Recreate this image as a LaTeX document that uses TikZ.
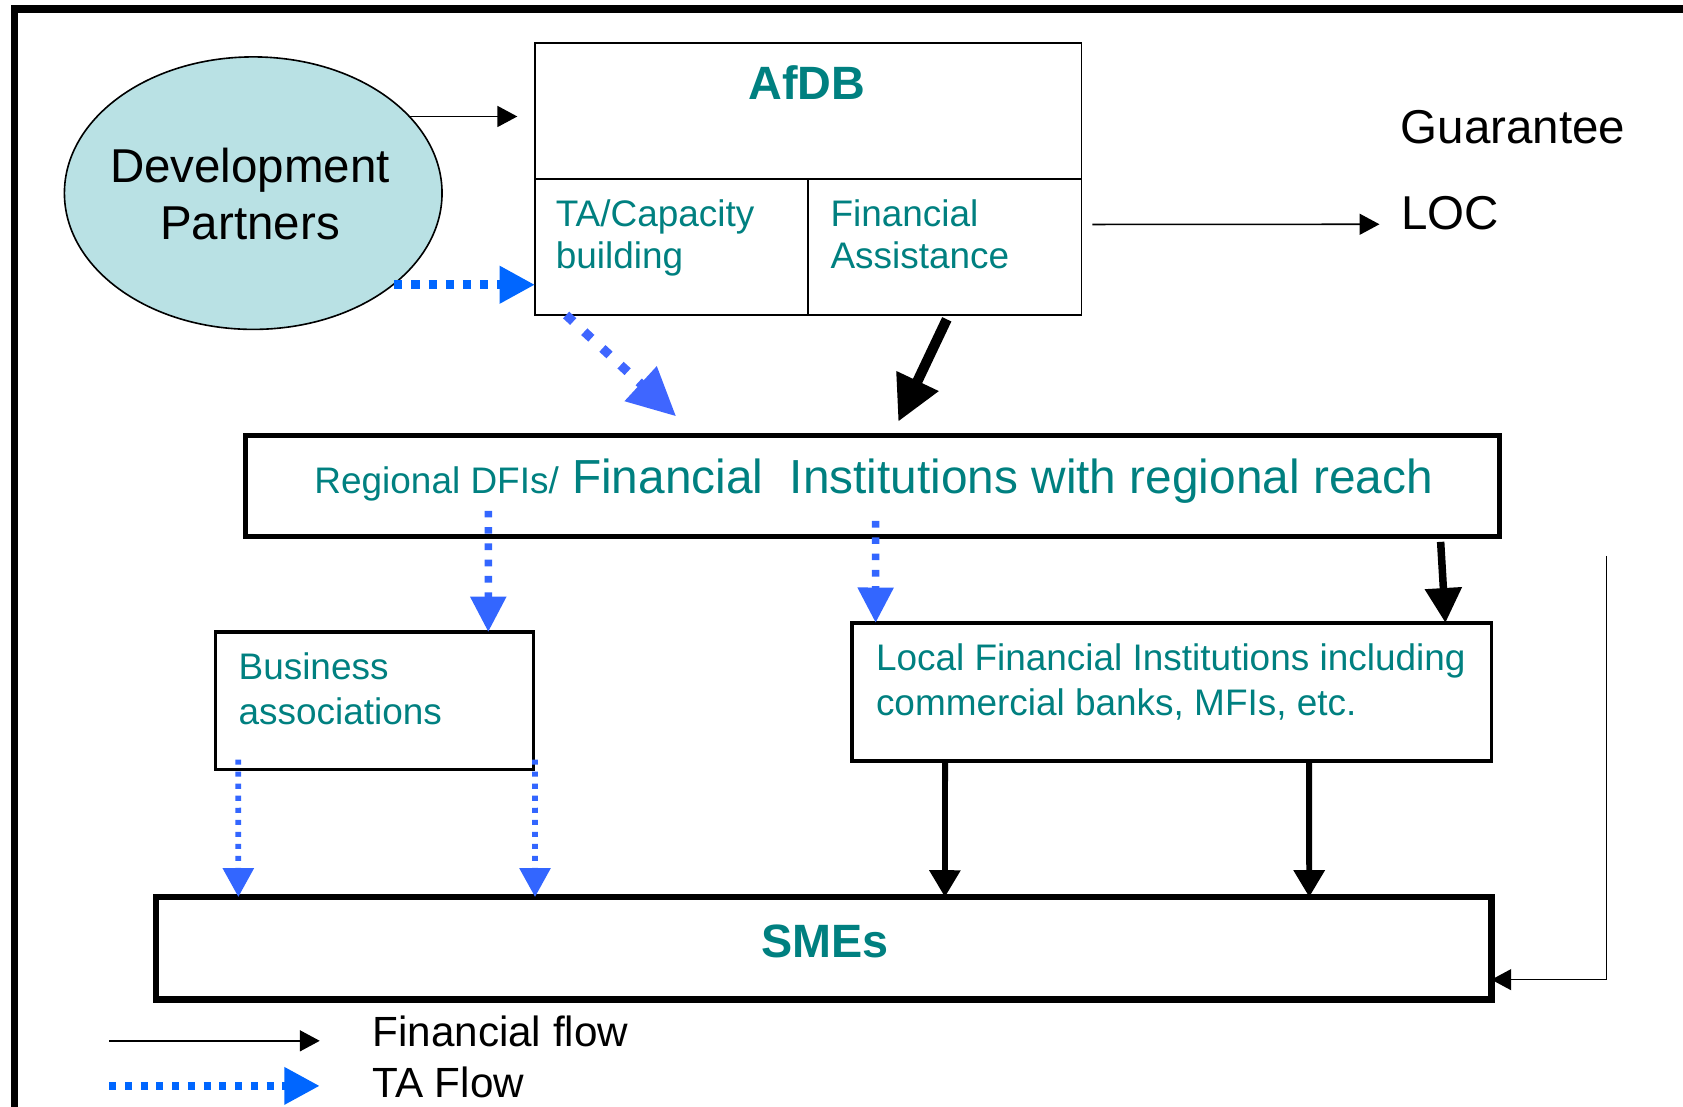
\documentclass[tikz,border=0pt]{standalone}
\usepackage{fontspec}
\setmainfont{Liberation Sans}
\usepackage{tikz}
\usetikzlibrary{positioning,calc,arrows.meta,shapes.geometric}
\definecolor{afdbteal}{RGB}{0,128,128}
\definecolor{partnerfill}{RGB}{185,225,228}
\definecolor{tablue}{RGB}{51,102,255}
\definecolor{tavivid}{RGB}{0,102,255}
\newcommand*{\bigfont}{\fontsize{25.2}{30.2}\selectfont}
\newcommand*{\smallfont}{\fontsize{19.6}{23.9}\selectfont}
\newcommand*{\legendfont}{\fontsize{22.4}{27}\selectfont}
\tikzset{%
  cellbox/.style={draw, rectangle, line width=0.032cm, outer sep=0pt, inner sep=0pt},% AfDB cells
  flowbox/.style={draw, rectangle, outer sep=0pt, inner sep=0pt},% boxes of the flow
  partner/.style={draw, ellipse, fill=partnerfill, line width=0.03cm, inner sep=0pt},
  txt/.style={inner sep=0pt, anchor=base west, align=left, font=\smallfont, text=afdbteal},
  bigtxt/.style={inner sep=0pt, anchor=base west, font=\bigfont},
  heading/.style={inner sep=0pt, anchor=base, font=\fontsize{24.8}{30}\selectfont\bfseries, text=afdbteal},
  fin/.style={line width=0.03cm, -{Triangle[length=0.37cm, width=0.39cm]}},% financial flow
  finbold/.style={line width=0.14cm, -{Triangle[length=0.65cm, width=0.66cm]}},
  taflow/.style={color=tablue, line width=0.14cm, dash pattern=on 0.124cm off 0.18cm,
    -{Triangle[length=0.66cm, width=0.64cm]}},% TA flow
  tabold/.style={taflow, color=tavivid, line width=0.168cm, dash pattern=on 0.152cm off 0.168cm,
    -{Triangle[length=0.66cm, width=0.66cm]}},
  tathin/.style={taflow, line width=0.106cm, dash pattern=on 0.094cm off 0.13cm,
    -{Triangle[length=0.54cm, width=0.56cm]}}
}

\begin{document}
\begin{tikzpicture}[x=0.02cm, y=-0.02cm]
\useasboundingbox (0,0) rectangle (1568.5,1030.8);
\clip (0,0) rectangle (1568.5,1030.8);
\draw[line width=0.14cm] (13.5,1040) |- (1580,8.2);

% top row
\node[partner, minimum width=7.04cm, minimum height=5.08cm] (dp) at (236,180) {};
\node[bigtxt, anchor=base, align=center] (dpt) at ($(dp.center)+(-3,43)$) {Development\\Partners};

\node[cellbox, minimum width=10.19cm, minimum height=2.54cm] (afdb) at (753.3,103.3) {};
\node[cellbox, minimum width=5.094cm, minimum height=2.536cm, below right=0pt and 0pt of afdb.south west] (ta) {};
\node[cellbox, minimum width=5.094cm, minimum height=2.536cm, below left=0pt and 0pt of afdb.south east] (fa) {};
\node[heading] (afdbt) at ($(afdb.north)+(-1.3,52.8)$) {AfDB};
\node[txt, font=\fontsize{19.6}{22.2}\selectfont] (tat) at ($(ta.north west)+(19.1,83)$) {TA/Capacity\\building};
\node[txt, font=\fontsize{19.6}{22.2}\selectfont] (fat) at ($(fa.north west)+(20.3,83)$) {Financial\\Assistance};

\node[bigtxt] (guar) at (1305,134) {Guarantee};
\node[bigtxt] (loc) at ($(guar.base west)+(0.6,80)$) {LOC};

% middle and bottom
\node[flowbox, line width=0.088cm, minimum width=23.37cm, minimum height=1.88cm] (rdfi) at (813.25,453) {};
\node[txt, font=\fontsize{25.35}{30}\selectfont] (rdfit) at ($(rdfi.west)+(63.6,7)$) {{\smallfont Regional DFIs/} Financial\ \ Institutions with regional reach};

\node[flowbox, line width=0.06cm, minimum width=5.92cm, minimum height=2.56cm] (ba) at (349,653) {};
\node[txt] (bat) at ($(ba.north west)+(21,86)$) {Business\\associations};
\node[flowbox, line width=0.07cm, minimum width=11.92cm, minimum height=2.57cm] (lfi) at (1092,644.75) {};
\node[txt, font=\fontsize{19.6}{24.2}\selectfont] (lfit) at ($(lfi.north west)+(22,86.5)$) {Local Financial Institutions including\\commercial banks, MFIs, etc.};

\node[flowbox, line width=0.12cm, minimum width=24.89cm, minimum height=1.91cm] (smes) at (767.75,883.75) {};
\node[heading] (smest) at ($(smes.north)+(1,56)$) {SMEs};

% flows
\draw[fin, shorten >=0.33cm] (dp.26) -- (dp.26 -| afdb.west);
\draw[tabold] (dp.-33) -- (dp.-33 -| ta.west);
\draw[taflow, color={rgb,255:red,63;green,102;blue,255}, line width=0.17cm, dash pattern=on 0.18cm off 0.28cm,
  -{Triangle[length=0.9cm, width=0.84cm]}] ($(ta.south west)+(29,0)$) -- ($(rdfi.north west)+(401,-18)$);
\draw[finbold, line width=0.19cm, -{Triangle[length=0.84cm, width=0.82cm]}] ($(fa.south west)+(129,4)$) -- ($(rdfi.north west)+(608,-13)$);
\draw[fin] ($(fa.east)+(10,-21)$) -- ($(loc.base west)+(-20,-5)$);

\draw[taflow] ($(rdfi.south west)+(226,-24)$) -- ($(ba.north west)+(254,0)$);
\draw[taflow] ($(rdfi.south west)+(587,-14.5)$) -- ($(lfi.north west)+(22,0)$);
\draw[finbold] ($(rdfi.south west)+(1113.5,5)$) -- ($(lfi.north west)+(553,0)$);

\draw[tathin] ($(ba.south west)+(21,-9)$) -- ($(smes.north west)+(76.5,0)$);
\draw[tathin] ($(ba.south east)+(1.6,-9)$) -- ($(smes.north west)+(353,0)$);
\draw[finbold, line width=0.11cm, -{Triangle[length=0.5cm, width=0.56cm]}] ($(lfi.south west)+(86.7,0)$) -- ($(smes.north west)+(735,0)$);
\draw[finbold, line width=0.11cm, -{Triangle[length=0.5cm, width=0.56cm]}] ($(lfi.south west)+(426,0)$) -- ($(smes.north west)+(1074.5,0)$);

\coordinate (fb) at (1497,518);
\draw[fin] (fb) |- ($(smes.south east)+(0,-18.5)$);

% legend
\coordinate (lgfa) at (101.6,970);
\coordinate (lgfb) at (298,970);
\coordinate (lgta) at (101.6,1012);
\coordinate (lgtb) at (298,1012);
\draw[fin] (lgfa) -- (lgfb);
\draw[tabold, line width=0.156cm, dash pattern=on 0.132cm off 0.162cm] (lgta) -- (lgtb);
\node[bigtxt, font=\legendfont] (lgft) at (346.7,975.5) {Financial flow};
\node[bigtxt, font=\legendfont] (lgtt) at (346.7,1023) {TA Flow};

\end{tikzpicture}
\end{document}
